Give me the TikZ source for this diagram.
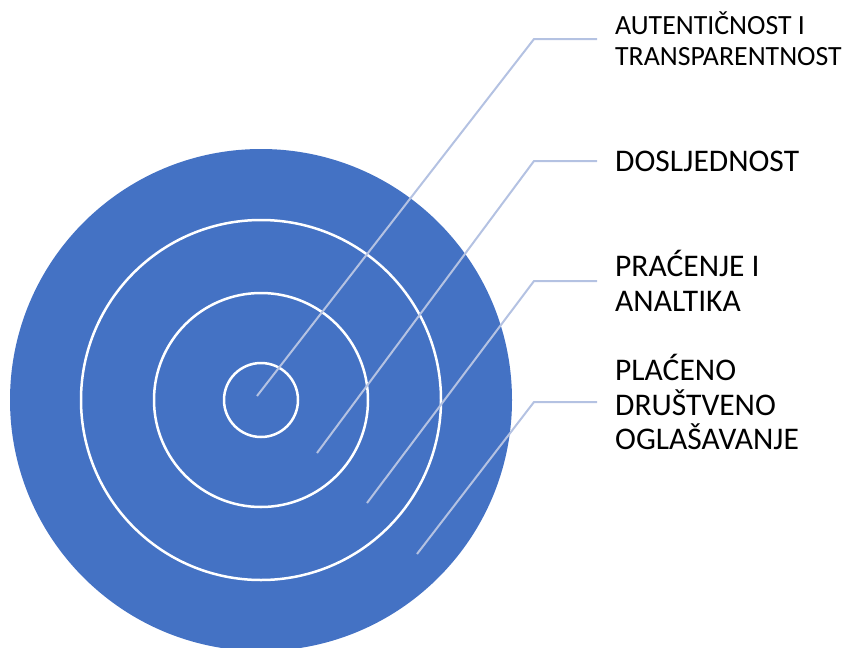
\documentclass[tikz,border=0pt]{standalone}
\usepackage{fontspec}
\setmainfont{Carlito}
\usepackage{xcolor}

\definecolor{ringblue}{HTML}{4472C4}
\definecolor{leader}{HTML}{B4C2E2}

\tikzset{
  ring/.style={draw=white, line width=2.5pt, circle, inner sep=0pt},
  leaderline/.style={draw=leader, line width=2pt},
  label/.style={anchor=west, inner xsep=18pt, inner ysep=0pt, align=left, font=\fontsize{31.5}{34.5}\selectfont}
}

\begin{document}
\begin{tikzpicture}[x=1pt, y=-1pt]

\useasboundingbox (0,0) rectangle (849,648);

% Define the rings, outermost first
\node[circle, fill=ringblue, inner sep=0pt, minimum size=502pt] (ring4) at (261,400) {};
\node[ring, minimum size=360pt] (ring3) at (261,400) {};
\node[ring, minimum size=214pt] (ring2) at (261,400) {};
\node[ring, minimum size=74pt] (ring1) at (261,400) {};

% Define the labels on the right
\node[label, font=\fontsize{27.8}{31}\selectfont] (lab1) at (597,39) {AUTENTIČNOST I\\TRANSPARENTNOST};
\node[label] (lab2) at (597,161) {DOSLJEDNOST};
\node[label] (lab3) at (597,281) {PRAĆENJE I\\ANALTIKA};
\node[label] (lab4) at (597,402) {PLAĆENO\\DRUŠTVENO\\OGLAŠAVANJE};

% Points inside the rings and the elbows
\coordinate (in1) at (257,396);
\coordinate (in2) at (317,453);
\coordinate (in3) at (367,503);
\coordinate (in4) at (417,554);
\coordinate (bend1) at (534,39);
\coordinate (bend2) at (534,161);
\coordinate (bend3) at (534,281);
\coordinate (bend4) at (534,402);

% Connect the rings to the labels
\draw[leaderline] (in1) -- (bend1) -- (lab1.west);
\draw[leaderline] (in2) -- (bend2) -- (lab2.west);
\draw[leaderline] (in3) -- (bend3) -- (lab3.west);
\draw[leaderline] (in4) -- (bend4) -- (lab4.west);

\end{tikzpicture}
\end{document}
